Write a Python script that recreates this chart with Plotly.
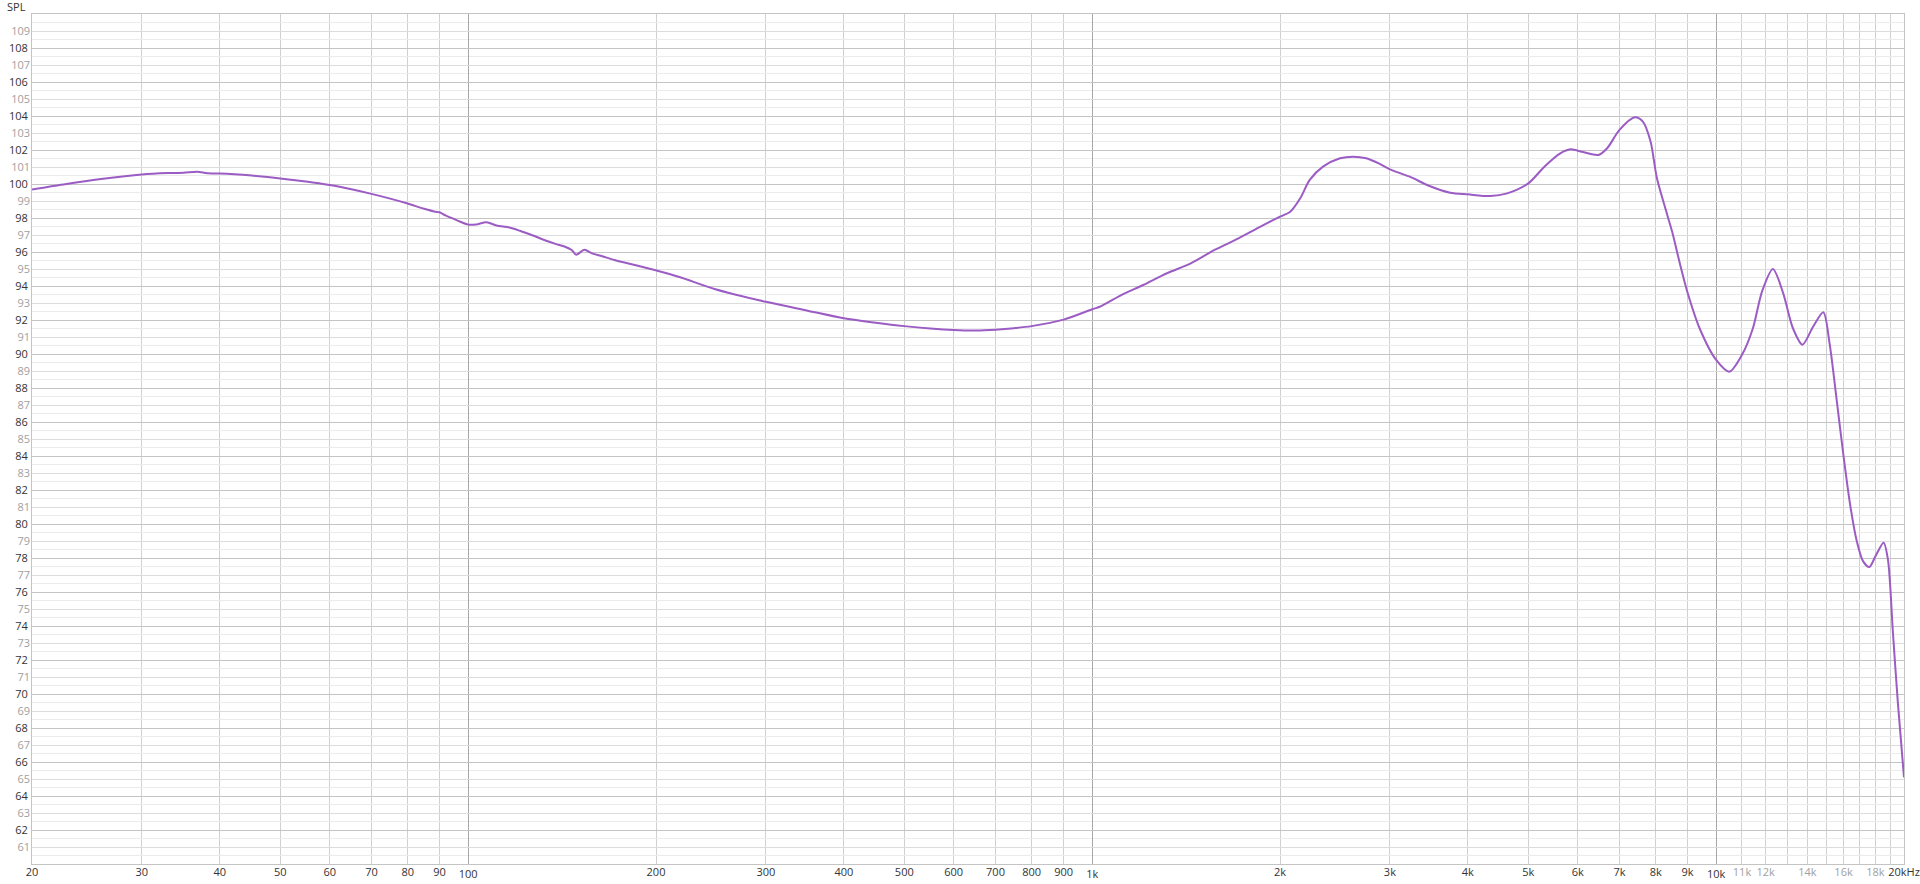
import plotly.graph_objects as go

# ---- data (frequency in Hz, SPL in dB) ----
freq_hz = [20, 22.7, 25.8, 30, 33, 35, 36.8, 38.2, 40, 45, 50, 55, 60, 65, 70, 75, 80, 85, 88.5, 90, 92, 96,
           100, 103, 107, 111, 116.5, 121, 127, 133, 138, 143, 146.5, 149, 153.5, 158, 164, 171.5, 185, 199,
           218, 249, 300, 350, 400, 450, 500, 550, 600, 650, 700, 750, 800, 900,
           1000, 1028, 1106, 1207, 1318, 1439, 1571, 1716, 1861, 2000, 2077, 2155, 2232, 2344, 2496, 2620,
           2750, 2890, 3000, 3228, 3472, 3746, 4000, 4348, 4624, 5000, 5306, 5626, 5843, 6000, 6479, 6688,
           7000, 7408, 7630, 7850, 8030, 8270, 8500, 8750, 9000, 9410, 10000, 10500, 11000, 11450,
           11850, 12330, 12800, 13280, 13750, 14300, 14850, 15200, 15600, 16000, 16400, 16800, 17200, 17600,
           18000, 18550, 18850, 19200, 19560, 20000]
spl_db = [99.67, 100.0, 100.29, 100.56, 100.64, 100.66, 100.72, 100.63, 100.62, 100.5, 100.33, 100.15, 99.94,
          99.69, 99.42, 99.14, 98.85, 98.54, 98.37, 98.34, 98.15, 97.86,
          97.61, 97.62, 97.75, 97.56, 97.44, 97.25, 96.97, 96.68, 96.48, 96.31, 96.12, 95.84, 96.13, 95.92,
          95.75, 95.53, 95.24, 94.94,
          94.53, 93.81, 93.07, 92.55, 92.1, 91.84, 91.64, 91.5, 91.41, 91.38, 91.43, 91.52, 91.64, 92.02,
          92.63, 92.78, 93.41, 94.06, 94.75, 95.33, 96.12, 96.8, 97.49, 98.08, 98.37, 99.16, 100.24, 101.02,
          101.51, 101.61, 101.51, 101.18, 100.86, 100.43, 99.88, 99.49, 99.39, 99.29, 99.45, 100.04, 101.02,
          101.8, 102.04, 101.96, 101.71, 102.1, 103.18, 103.92, 103.67, 102.5, 100.4, 98.7, 97.2,
          95.3, 93.6, 91.5, 89.65, 88.96, 89.95, 91.5, 93.7, 95.0, 93.6, 91.5, 90.55, 91.6, 92.45, 90.6,
          87.3, 84.0, 81.1, 79.0, 77.8, 77.47, 78.1, 78.9, 77.9, 73.6, 69.4, 65.1]

# ---- axis ticks ----
y_even = list(range(62, 109, 2))
y_odd = list(range(61, 110, 2))
y_half = [v + 0.5 for v in range(60, 110)]

x_decades = [100, 1000, 10000]
x_decade_labels = ["100", "1k", "10k"]
x_dark = [20, 30, 40, 50, 60, 70, 80, 90, 200, 300, 400, 500, 600, 700, 800, 900,
          2000, 3000, 4000, 5000, 6000, 7000, 8000, 9000, 20000]
x_dark_labels = ["20", "30", "40", "50", "60", "70", "80", "90", "200", "300", "400", "500", "600", "700",
                 "800", "900", "2k", "3k", "4k", "5k", "6k", "7k", "8k", "9k", "20kHz"]
x_gray = [11000, 12000, 14000, 16000, 18000]
x_gray_labels = ["11k", "12k", "14k", "16k", "18k"]
x_unlabeled = [13000, 15000, 17000, 19000]

DARK = "#333333"
GRAY = "#a0a0a0"
FONT = "Open Sans"
XR = [1.30103, 4.30103]
YR = [60, 110]

fig = go.Figure()
# empty helper traces so that the overlaid label/grid axes are created
for xa, ya in (("x2", "y"), ("x3", "y"), ("x", "y2")):
    fig.add_trace(go.Scatter(x=[None], y=[None], xaxis=xa, yaxis=ya, mode="lines",
                             hoverinfo="skip", showlegend=False))
fig.add_trace(go.Scatter(x=freq_hz, y=spl_db, mode="lines",
                         line=dict(color="#9b5cc4", width=2, shape="spline", smoothing=0.8),
                         hoverinfo="x+y", showlegend=False))

fig.update_layout(
    width=1920, height=884,
    margin=dict(l=32, r=16, t=14, b=20, autoexpand=False),
    paper_bgcolor="white", plot_bgcolor="white",
    font=dict(family=FONT, size=11, color=DARK),
    xaxis=dict(type="log", range=XR, tickmode="array", tickvals=x_decades, ticktext=x_decade_labels,
               showgrid=True, gridcolor="#a8a8a8", gridwidth=1, ticks="", zeroline=False,
               showline=True, mirror=True, linecolor="#c4c4c4", linewidth=1, automargin=False,
               tickfont=dict(family=FONT, size=11, color=DARK), fixedrange=True,
               minor=dict(tickmode="array", tickvals=x_dark + x_gray + x_unlabeled,
                          showgrid=True, gridcolor="#d0d0d0", gridwidth=1, ticks="")),
    xaxis2=dict(type="log", range=XR, overlaying="x", anchor="y", side="bottom",
                tickmode="array", tickvals=x_dark, ticktext=x_dark_labels, showgrid=False,
                ticks="", zeroline=False, showline=False, automargin=False,
                tickfont=dict(family=FONT, size=11, color=DARK), fixedrange=True),
    xaxis3=dict(type="log", range=XR, overlaying="x", anchor="y", side="bottom",
                tickmode="array", tickvals=x_gray, ticktext=x_gray_labels, showgrid=False,
                ticks="", zeroline=False, showline=False, automargin=False,
                tickfont=dict(family=FONT, size=11, color=GRAY), fixedrange=True),
    yaxis=dict(range=YR, tickmode="array", tickvals=y_even, ticktext=[str(v) for v in y_even],
               showgrid=True, gridcolor="#c4c4c4", gridwidth=1, ticks="", zeroline=False,
               showline=True, mirror=True, linecolor="#c4c4c4", linewidth=1, automargin=False,
               tickfont=dict(family=FONT, size=11, color=DARK), fixedrange=True, ticklabelstandoff=1,
               minor=dict(tickmode="array", tickvals=y_half, showgrid=True,
                          gridcolor="#ebebeb", gridwidth=1, ticks="")),
    yaxis2=dict(range=YR, overlaying="y", anchor="x", side="left", tickmode="array",
                tickvals=y_odd, ticktext=[str(v) for v in y_odd], showgrid=True,
                gridcolor="#dcdcdc", gridwidth=1, ticks="", zeroline=False, showline=False,
                automargin=False,
                tickfont=dict(family=FONT, size=11, color=GRAY), fixedrange=True, ticklabelstandoff=1),
    annotations=[dict(text="SPL", xref="paper", yref="paper", x=0, y=1, xanchor="right",
                      yanchor="bottom", xshift=-4, yshift=-2, showarrow=False,
                      font=dict(family=FONT, size=11, color=DARK))],
)

fig.write_html("out.html", config={"displayModeBar": False},
               post_script="document.body.style.margin='0';document.body.style.overflow='hidden';")
